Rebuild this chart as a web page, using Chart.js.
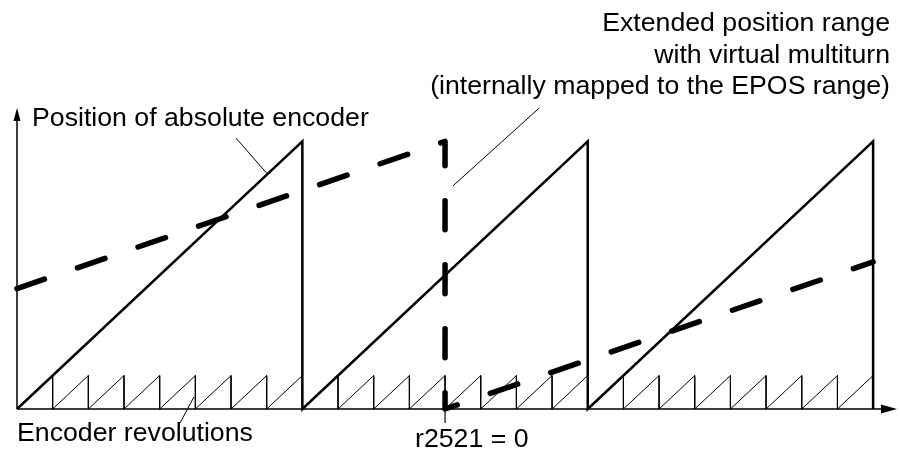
<!DOCTYPE html>
<html>
<head>
<meta charset="utf-8">
<script src="https://cdn.jsdelivr.net/npm/chart.js@4"></script>
<style>
  body { margin: 0; background: #fff; }
  #wrap { position: relative; width: 900px; height: 452px; }
  .lbl { position: absolute; font-family: "Liberation Sans", Arial, sans-serif;
         font-size: 26.7px; line-height: 31.5px; color: #000; white-space: nowrap; }
</style>
</head>
<body>
<div id="wrap">
  <canvas id="chart_encoder"></canvas>
  <div class="lbl" style="right:10px; top:7px; text-align:right;">Extended position range<br>with virtual multiturn<br>(internally mapped to the EPOS range)</div>
  <div class="lbl" style="left:32px; top:102px;">Position of absolute encoder</div>
  <div class="lbl" style="left:17px; top:417px;">Encoder revolutions</div>
  <div class="lbl" style="left:415px; top:423px;">r2521 = 0</div>
</div>
<script>
// absolute encoder position (big sawtooth), x in encoder revolutions
var absX = [0, 8, 8, 16, 16, 24, 24];
var absY = [0, 8, 0, 8, 0, 8, 0];

// extended position range (dashed)
var extX = [0, 12, 12, 24];
var extY = [3.6, 8, 0, 4.4];

// single encoder revolutions (small sawtooth)
var revEdges = [0, 1, 2, 3, 4, 5, 6, 7, 8, 9, 10, 11, 12, 13, 14, 15, 16, 17, 18, 19, 20, 21, 22, 23, 24];
var revHeight = 1;

// r2521 = 0 marker
var zeroX = 12;

// leader lines for the labels [x1, y1, x2, y2]
var leaders = [
  [6.14, 8.1, 7.0, 7.05],
  [14.64, 9.0, 12.22, 6.67],
  [4.57, -0.42, 4.96, 0.36]
];

var xMax = 24.67, yMax = 9;

function toPoints(xs, ys) {
  var pts = [];
  xs.forEach(function(x, i) { pts.push({x: x, y: ys[i]}); });
  return pts;
}

var revPoints = [];
revEdges.forEach(function(e, i) {
  if (i > 0) revPoints.push({x: e, y: revHeight});
  revPoints.push({x: e, y: 0});
});

var decoPlugin = {
  id: 'deco',
  afterDraw: function(chart) {
    var ctx = chart.ctx, xs = chart.scales.x, ys = chart.scales.y;
    var x0 = xs.getPixelForValue(0), y0 = ys.getPixelForValue(0);
    var xEnd = xs.getPixelForValue(xMax), yEnd = ys.getPixelForValue(yMax);
    ctx.save();
    ctx.strokeStyle = '#000';
    ctx.fillStyle = '#000';
    ctx.lineWidth = 1.5;
    ctx.beginPath();
    ctx.moveTo(x0, y0); ctx.lineTo(xEnd - 10, y0);
    ctx.moveTo(x0, y0); ctx.lineTo(x0, yEnd + 8);
    ctx.stroke();
    // arrow heads
    ctx.beginPath();
    ctx.moveTo(xEnd, y0); ctx.lineTo(xEnd - 16, y0 - 4.5); ctx.lineTo(xEnd - 16, y0 + 4.5); ctx.closePath();
    ctx.fill();
    ctx.beginPath();
    ctx.moveTo(x0, yEnd); ctx.lineTo(x0 - 3.5, yEnd + 13); ctx.lineTo(x0 + 3.5, yEnd + 13); ctx.closePath();
    ctx.fill();
    // tick at r2521 = 0
    var zx = xs.getPixelForValue(zeroX);
    ctx.lineWidth = 1.2;
    ctx.beginPath();
    ctx.moveTo(zx, y0); ctx.lineTo(zx, ys.getPixelForValue(-0.42));
    ctx.stroke();
    // leader lines
    ctx.lineWidth = 1;
    leaders.forEach(function(l) {
      ctx.beginPath();
      ctx.moveTo(xs.getPixelForValue(l[0]), ys.getPixelForValue(l[1]));
      ctx.lineTo(xs.getPixelForValue(l[2]), ys.getPixelForValue(l[3]));
      ctx.stroke();
    });
    ctx.restore();
  }
};

var myChart = new Chart(document.getElementById('chart_encoder'), {
  type: 'line',
  data: {
    datasets: [{
      label: 'Encoder revolutions',
      data: revPoints,
      borderColor: '#000',
      borderWidth: 1,
      pointRadius: 0,
      clip: false
    }, {
      label: 'Position of absolute encoder',
      data: toPoints(absX, absY),
      borderColor: '#000',
      borderWidth: 2.5,
      borderJoinStyle: 'miter',
      pointRadius: 0,
      clip: false
    }, {
      label: 'Extended position range',
      data: toPoints(extX, extY),
      borderColor: '#000',
      borderWidth: 5.5,
      borderDash: [29, 35],
      borderCapStyle: 'round',
      borderJoinStyle: 'round',
      pointRadius: 0,
      clip: false
    }]
  },
  options: {
    responsive: true,
    maintainAspectRatio: false,
    animation: false,
    layout: { padding: { left: 17, right: 3, top: 108, bottom: 43 } },
    plugins: { legend: { display: false }, tooltip: { enabled: false } },
    scales: {
      x: { type: 'linear', min: 0, max: xMax, display: false },
      y: { type: 'linear', min: 0, max: yMax, display: false }
    }
  },
  plugins: [decoPlugin]
});
</script>
</body>
</html>
